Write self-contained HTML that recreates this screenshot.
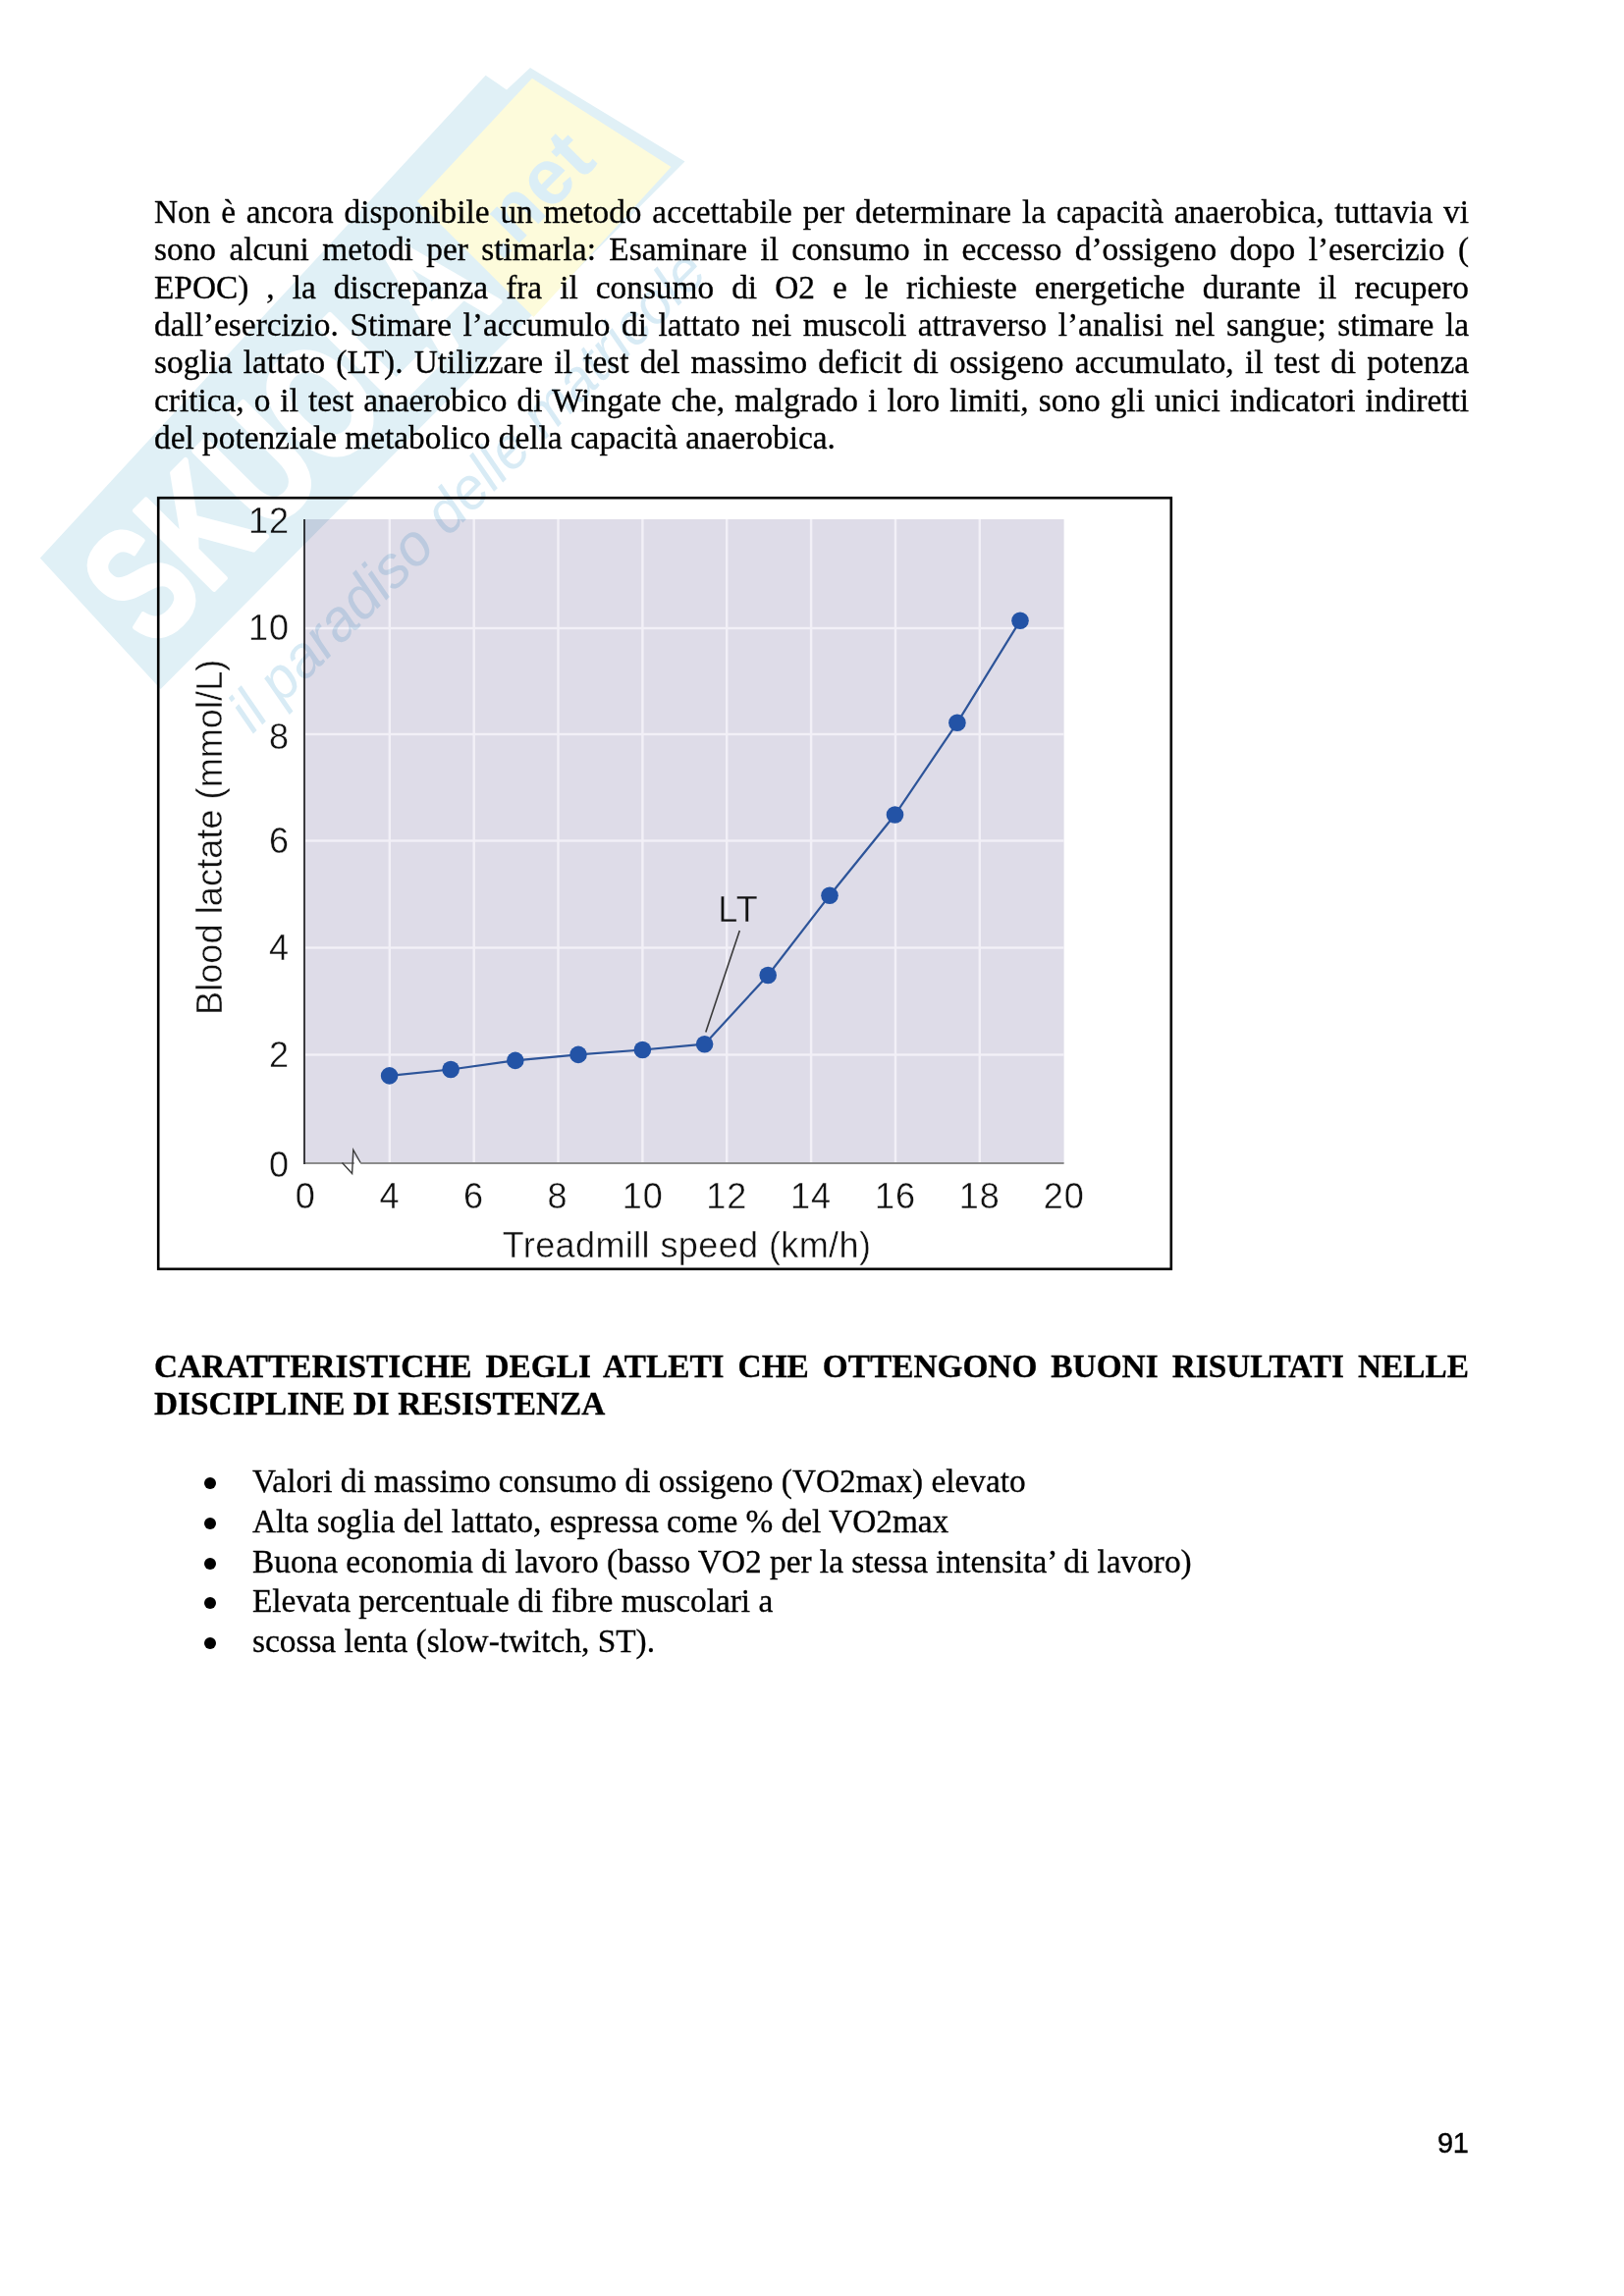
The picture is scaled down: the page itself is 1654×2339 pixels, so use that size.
<!DOCTYPE html>
<html><head><meta charset="utf-8">
<style>
html,body{margin:0;padding:0;background:#fff;}
body{width:1654px;height:2339px;position:relative;overflow:hidden;}
.ln{-webkit-text-stroke:0.3px #000;position:absolute;left:157px;width:1339px;white-space:nowrap;font-family:"Liberation Serif",serif;font-size:33.33px;line-height:40px;height:40px;color:#000;}
.j{text-align:justify;text-align-last:justify;white-space:normal;}
.b{font-weight:bold;}
.bl{-webkit-text-stroke:0.3px #000;position:absolute;left:257px;white-space:nowrap;font-family:"Liberation Serif",serif;font-size:33.33px;line-height:40px;height:40px;color:#000;}
.dot{position:absolute;left:208px;width:12px;height:12px;border-radius:50%;background:#000;}
#pn{position:absolute;left:1464px;font-family:"Liberation Sans",sans-serif;font-size:29px;line-height:30px;color:#000;letter-spacing:-0.5px;-webkit-text-stroke:0.4px #000;}
svg{position:absolute;left:0;top:0;}
.ax{font-family:"Liberation Sans",sans-serif;font-size:36px;fill:#111;letter-spacing:1px;stroke:#fff;stroke-width:0.4px;}
.axt{letter-spacing:0.4px;}
.ayt{letter-spacing:0.1px;}
</style></head><body>
<div class="ln j" style="top:196px">Non è ancora disponibile un metodo accettabile per determinare la capacità anaerobica, tuttavia vi</div>
<div class="ln j" style="top:234px">sono alcuni metodi per stimarla: Esaminare il consumo in eccesso d’ossigeno dopo l’esercizio (</div>
<div class="ln j" style="top:273px">EPOC) , la discrepanza fra il consumo di O2 e le richieste energetiche durante il recupero</div>
<div class="ln j" style="top:311px">dall’esercizio. Stimare l’accumulo di lattato nei muscoli attraverso l’analisi nel sangue; stimare la</div>
<div class="ln j" style="top:349px">soglia lattato (LT). Utilizzare il test del massimo deficit di ossigeno accumulato, il test di potenza</div>
<div class="ln j" style="top:388px">critica, o il test anaerobico di Wingate che, malgrado i loro limiti, sono gli unici indicatori indiretti</div>
<div class="ln" style="top:426px">del potenziale metabolico della capacità anaerobica.</div>

<div class="ln j b" style="top:1372px">CARATTERISTICHE DEGLI ATLETI CHE OTTENGONO BUONI RISULTATI NELLE</div>
<div class="ln b" style="top:1410px">DISCIPLINE DI RESISTENZA</div>

<div class="dot" style="top:1505px"></div><div class="bl" style="top:1489px">Valori di massimo consumo di ossigeno (VO2max) elevato</div>
<div class="dot" style="top:1546px"></div><div class="bl" style="top:1530px">Alta soglia del lattato, espressa come % del VO2max</div>
<div class="dot" style="top:1587px"></div><div class="bl" style="top:1571px">Buona economia di lavoro (basso VO2 per la stessa intensita’ di lavoro)</div>
<div class="dot" style="top:1627px"></div><div class="bl" style="top:1611px">Elevata percentuale di fibre muscolari a</div>
<div class="dot" style="top:1668px"></div><div class="bl" style="top:1652px">scossa lenta (slow-twitch, ST).</div>

<svg id="chart" width="1654" height="2339" viewBox="0 0 1654 2339">
<rect x="161.2" y="507.2" width="1031.6" height="785.6" fill="#fff" stroke="#000" stroke-width="2.6"/>
<rect x="309" y="529" width="774.6" height="656" fill="#dedce8"/>
<rect x="395.6" y="529" width="2.4" height="655" fill="#f2f0f7"/>
<rect x="481.5" y="529" width="2.4" height="655" fill="#f2f0f7"/>
<rect x="567.3" y="529" width="2.4" height="655" fill="#f2f0f7"/>
<rect x="653.2" y="529" width="2.4" height="655" fill="#f2f0f7"/>
<rect x="739.0" y="529" width="2.4" height="655" fill="#f2f0f7"/>
<rect x="824.9" y="529" width="2.4" height="655" fill="#f2f0f7"/>
<rect x="910.8" y="529" width="2.4" height="655" fill="#f2f0f7"/>
<rect x="996.6" y="529" width="2.4" height="655" fill="#f2f0f7"/>
<rect x="311" y="1073.3" width="772.6" height="2.4" fill="#f2f0f7"/>
<rect x="311" y="964.3" width="772.6" height="2.4" fill="#f2f0f7"/>
<rect x="311" y="855.3" width="772.6" height="2.4" fill="#f2f0f7"/>
<rect x="311" y="746.8" width="772.6" height="2.4" fill="#f2f0f7"/>
<rect x="311" y="638.8" width="772.6" height="2.4" fill="#f2f0f7"/>
<rect x="309" y="1184" width="774.6" height="2" fill="#8c8c8c"/>
<rect x="309" y="529" width="2" height="657" fill="#3a3a3e"/>
<polygon points="360.8,1178.5 367.2,1184.6 367.2,1199 360.8,1199" fill="#fff"/>
<polyline points="348.5,1184.5 358.6,1195.5 359.8,1171.5 367.2,1184.5" fill="none" stroke="#3c3c3c" stroke-width="1.4" stroke-linejoin="miter"/>
<line x1="753.3" y1="948" x2="718.8" y2="1051.4" stroke="#3a3a3a" stroke-width="1.6"/>
<polyline points="396.6,1095.9 459.1,1089.5 524.8,1080.4 589.0,1074.4 654.4,1069.5 717.6,1063.7 782.2,993.5 845,912.2 911.5,830 974.9,736.3 1039,632.3" fill="none" stroke="#2d5499" stroke-width="2.2"/>
<circle cx="396.6" cy="1095.9" r="8.8" fill="#2353a6"/>
<circle cx="459.1" cy="1089.5" r="8.8" fill="#2353a6"/>
<circle cx="524.8" cy="1080.4" r="8.8" fill="#2353a6"/>
<circle cx="589.0" cy="1074.4" r="8.8" fill="#2353a6"/>
<circle cx="654.4" cy="1069.5" r="8.8" fill="#2353a6"/>
<circle cx="717.6" cy="1063.7" r="8.8" fill="#2353a6"/>
<circle cx="782.2" cy="993.5" r="8.8" fill="#2353a6"/>
<circle cx="845" cy="912.2" r="8.8" fill="#2353a6"/>
<circle cx="911.5" cy="830" r="8.8" fill="#2353a6"/>
<circle cx="974.9" cy="736.3" r="8.8" fill="#2353a6"/>
<circle cx="1039" cy="632.3" r="8.8" fill="#2353a6"/>
<text x="295" y="1199.2" text-anchor="end" class="ax">0</text>
<text x="295" y="1087.1" text-anchor="end" class="ax">2</text>
<text x="295" y="978.1" text-anchor="end" class="ax">4</text>
<text x="295" y="869.0" text-anchor="end" class="ax">6</text>
<text x="295" y="762.6" text-anchor="end" class="ax">8</text>
<text x="295" y="651.8" text-anchor="end" class="ax">10</text>
<text x="295" y="542.6" text-anchor="end" class="ax">12</text>
<text x="311.2" y="1231" text-anchor="middle" class="ax">0</text>
<text x="396.9" y="1231" text-anchor="middle" class="ax">4</text>
<text x="482.5" y="1231" text-anchor="middle" class="ax">6</text>
<text x="568.0" y="1231" text-anchor="middle" class="ax">8</text>
<text x="654.8" y="1231" text-anchor="middle" class="ax">10</text>
<text x="740.2" y="1231" text-anchor="middle" class="ax">12</text>
<text x="826.1" y="1231" text-anchor="middle" class="ax">14</text>
<text x="912.0" y="1231" text-anchor="middle" class="ax">16</text>
<text x="997.8" y="1231" text-anchor="middle" class="ax">18</text>
<text x="1083.7" y="1231" text-anchor="middle" class="ax">20</text>
<text x="752" y="938.5" text-anchor="middle" class="ax" style="stroke:#dedce8">LT</text>
<text x="699.5" y="1280.6" text-anchor="middle" class="ax axt">Treadmill speed (km/h)</text>
<text transform="translate(225.5 852.8) rotate(-90)" x="0" y="0" text-anchor="middle" class="ax ayt">Blood lactate (mmol/L)</text>
</svg>
<svg id="wm" width="1654" height="2339" viewBox="0 0 1654 2339" style="mix-blend-mode:multiply">
<polygon points="40.8,568.6 494.6,76.7 516,91.5 540,69 697.5,164.4 163.6,702" fill="#e0f0f6"/>
<polygon points="541.9,79.7 683.5,170 543.5,323 425,205" fill="#fdfbdb"/>
<g transform="translate(102 635) rotate(-45.2)">
<text x="18" y="58" font-family="Liberation Sans" font-weight="bold" font-size="165" fill="#fff" stroke="#fff" stroke-width="5" stroke-linejoin="round" textLength="505" lengthAdjust="spacingAndGlyphs">SKUOLA</text>
<text x="548" y="30" font-family="Liberation Sans" font-weight="bold" font-size="80" fill="#dbeef6">.net</text>
<text x="29" y="190" font-family="Liberation Sans" font-style="italic" font-size="60" fill="#d8ebf5" textLength="660" lengthAdjust="spacingAndGlyphs">il paradiso delle matricole</text>
</g>
</svg>
<div id="pn" style="top:2168px">91</div>
</body></html>
